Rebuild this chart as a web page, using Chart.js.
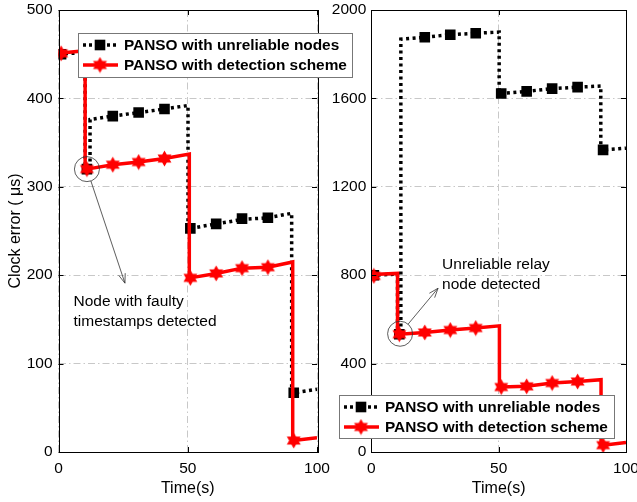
<!DOCTYPE html>
<html>
<head>
<meta charset="utf-8">
<script src="https://cdn.jsdelivr.net/npm/chart.js@4.4.0/dist/chart.umd.min.js"></script>
<style>
  html, body { margin: 0; padding: 0; background: #fff; overflow: hidden; }
  #wrap { position: relative; width: 637px; height: 502px; overflow: hidden; }
  #left { position: absolute; left: 0; top: 0; z-index: 2; }
  #right { position: absolute; left: 320px; top: 0; z-index: 1; }
</style>
</head>
<body>
<div id="wrap">
  <canvas id="left" width="360" height="502"></canvas>
  <canvas id="right" width="340" height="502"></canvas>
</div>
<script>
// series names
const legendLabels = ['PANSO with unreliable nodes', 'PANSO with detection scheme'];

// marker times (s), same for every curve
const markerTimes = [1, 11, 21, 31, 41, 51, 61, 71, 81, 91];

// ---- left panel ----
const leftYTicks = [0, 100, 200, 300, 400, 500];
const leftUnreliableT = [0, 10.3, 10.3, 12.2, 12.2, 21, 31, 41, 50.1, 50.1, 51, 61, 71, 81, 90.2, 90.2, 91, 100];
const leftUnreliableY = [450, 452, 320, 320, 376, 380, 384, 388, 392, 253, 253, 258, 263, 265, 270, 67, 67, 71];
const leftUnreliableMarks = [450, 320, 380, 384, 388, 253, 258, 264, 265, 67];
const leftDetectT = [0, 10.3, 10.3, 11, 21, 31, 41, 50.6, 50.6, 51, 61, 71, 81, 90.6, 90.6, 91, 100];
const leftDetectY = [451, 454, 320, 320, 325, 328, 332, 337, 197, 197, 202, 208, 209, 215, 13, 13, 16];
const leftDetectMarks = [451, 320, 325, 328, 332, 197, 202, 208, 209, 13];

// ---- right panel ----
const rightYTicks = [0, 400, 800, 1200, 1600, 2000];
const rightUnreliableT = [0, 10.3, 10.3, 11.6, 11.6, 21, 31, 41, 50.2, 50.2, 51, 61, 71, 81, 90.1, 90.1, 91, 100];
const rightUnreliableY = [800, 805, 533, 533, 1868, 1877, 1888, 1895, 1900, 1622, 1622, 1632, 1644, 1651, 1656, 1367, 1367, 1375];
const rightUnreliableMarks = [800, 533, 1877, 1888, 1895, 1622, 1632, 1644, 1651, 1367];
const rightDetectT = [0, 10.3, 10.3, 11, 21, 31, 41, 50.3, 50.3, 51, 61, 71, 81, 90.2, 90.2, 91, 100];
const rightDetectY = [803, 808, 533, 533, 541, 552, 561, 571, 294, 294, 298, 312, 319, 327, 31, 31, 43];
const rightDetectMarks = [797, 533, 541, 552, 561, 294, 297, 312, 319, 31];

const xTicks = [0, 50, 100];

const FONT = '"Liberation Sans", Arial, Helvetica, sans-serif';

function pts(t, y) { return t.map((v, i) => ({ x: v, y: y[i] })); }

// six pointed star used as the marker of the red curve
function hexagram(size, color) {
  const c = document.createElement('canvas');
  c.width = c.height = size;
  const g = c.getContext('2d');
  const R = size / 2 - 0.5, r = R * 0.577;
  g.beginPath();
  for (let i = 0; i < 12; i++) {
    const a = -Math.PI / 2 + i * Math.PI / 6;
    const rad = i % 2 ? r : R;
    g.lineTo(size / 2 + rad * Math.cos(a), size / 2 + rad * Math.sin(a));
  }
  g.closePath();
  g.fillStyle = color;
  g.fill();
  return c;
}
const star = hexagram(17, '#ff0000');

// box, inward ticks, annotation and legend
const decorPlugin = {
  id: 'decor',
  afterDatasetsDraw(chart, args, opts) {
    const ctx = chart.ctx, a = chart.chartArea;
    const xs = chart.scales.x, ys = chart.scales.y;
    ctx.save();
    // inward ticks
    ctx.strokeStyle = '#000';
    ctx.lineWidth = 1;
    ctx.beginPath();
    opts.yTicks.forEach(v => {
      const y = Math.round(ys.getPixelForValue(v)) + 0.5;
      ctx.moveTo(a.left, y); ctx.lineTo(a.left + 5, y);
      ctx.moveTo(a.right, y); ctx.lineTo(a.right - 5, y);
    });
    xTicks.forEach(v => {
      const x = Math.round(xs.getPixelForValue(v)) + 0.5;
      ctx.moveTo(x, a.bottom); ctx.lineTo(x, a.bottom - 5);
      ctx.moveTo(x, a.top); ctx.lineTo(x, a.top + 5);
    });
    ctx.stroke();
    // frame
    ctx.strokeRect(Math.round(a.left) + 0.5, Math.round(a.top) + 0.5,
      Math.round(a.right - a.left), Math.round(a.bottom - a.top));

    // annotation: circle, arrow, text
    const n = opts.note;
    const cx = xs.getPixelForValue(n.circle[0]), cy = ys.getPixelForValue(n.circle[1]);
    const tx = xs.getPixelForValue(n.tip[0]), ty = ys.getPixelForValue(n.tip[1]);
    ctx.strokeStyle = '#333';
    ctx.lineWidth = 0.8;
    ctx.beginPath();
    ctx.arc(cx, cy, 12.5, 0, Math.PI * 2);
    ctx.stroke();
    const ang = Math.atan2(ty - cy, tx - cx);
    ctx.beginPath();
    ctx.moveTo(cx + 12.5 * Math.cos(ang), cy + 12.5 * Math.sin(ang));
    ctx.lineTo(tx, ty);
    ctx.moveTo(tx - 10 * Math.cos(ang - 0.35), ty - 10 * Math.sin(ang - 0.35));
    ctx.lineTo(tx, ty);
    ctx.lineTo(tx - 10 * Math.cos(ang + 0.35), ty - 10 * Math.sin(ang + 0.35));
    ctx.stroke();
    ctx.fillStyle = '#000';
    ctx.font = '15.5px ' + FONT;
    ctx.textBaseline = 'middle';
    ctx.textAlign = 'left';
    n.lines.forEach((s, i) => {
      ctx.fillText(s, xs.getPixelForValue(n.text[0]), ys.getPixelForValue(n.text[1]) + i * 20);
    });

    // legend
    const L = opts.legend;
    ctx.fillStyle = '#fff';
    ctx.fillRect(L.x, L.y, L.w, L.h);
    ctx.strokeStyle = '#777';
    ctx.lineWidth = 1;
    ctx.strokeRect(L.x + 0.5, L.y + 0.5, L.w, L.h);
    const r1 = L.y + 12, r2 = L.y + 32;
    const sx0 = L.x + 5, sx1 = L.x + 40, mx = L.x + 22;
    ctx.setLineDash([3, 3]);
    ctx.strokeStyle = '#000';
    ctx.lineWidth = 3.5;
    ctx.beginPath(); ctx.moveTo(sx0, r1); ctx.lineTo(sx1, r1); ctx.stroke();
    ctx.setLineDash([]);
    ctx.fillStyle = '#000';
    ctx.fillRect(mx - 5.3, r1 - 5.3, 10.6, 10.6);
    ctx.strokeStyle = '#ff0000';
    ctx.beginPath(); ctx.moveTo(sx0, r2); ctx.lineTo(sx1, r2); ctx.stroke();
    ctx.drawImage(star, mx - star.width / 2, r2 - star.height / 2);
    ctx.fillStyle = '#000';
    ctx.font = 'bold 15.4px ' + FONT;
    ctx.fillText(legendLabels[0], L.x + 46, r1 + 1);
    ctx.fillText(legendLabels[1], L.x + 46, r2 + 1);
    ctx.restore();
  }
};

function makeChart(id, p) {
  new Chart(document.getElementById(id), {
    type: 'line',
    data: {
      datasets: [
        { data: pts(markerTimes, p.detMarks), showLine: false, pointStyle: star,
          pointRadius: 8, order: 0 },
        { data: pts(p.detT, p.detY), borderColor: '#ff0000', borderWidth: 3.5,
          pointRadius: 0, order: 1 },
        { data: pts(markerTimes, p.unrMarks), showLine: false, pointStyle: 'rect',
          pointRadius: 7.5, backgroundColor: '#000', borderColor: '#000', borderWidth: 0, order: 2 },
        { data: pts(p.unrT, p.unrY), borderColor: '#000', borderWidth: 3.5,
          borderDash: [3, 3.5], pointRadius: 0, order: 3 }
      ]
    },
    options: {
      responsive: false,
      animation: false,
      layout: { padding: { top: 10, right: p.padRight, left: 0, bottom: 0 } },
      plugins: {
        legend: { display: false },
        tooltip: { enabled: false },
        decor: { yTicks: p.yTicks, note: p.note, legend: p.legend }
      },
      scales: {
        x: {
          type: 'linear', min: 0, max: 100,
          afterBuildTicks: s => { s.ticks = xTicks.map(v => ({ value: v })); },
          ticks: { color: '#000', font: { family: FONT, size: 15.5 }, padding: 7, maxRotation: 0,
            callback: v => String(v) },
          grid: { color: '#c8c8c8', lineWidth: 1, drawTicks: false },
          border: { display: false, dash: [7, 3, 1.5, 3] },
          title: { display: true, text: 'Time(s)', color: '#000',
            font: { family: FONT, size: 16 }, padding: { top: 0, bottom: 4 } },
          afterFit: s => { s.height = 50; }
        },
        y: {
          min: 0, max: p.yTicks[p.yTicks.length - 1],
          afterBuildTicks: s => { s.ticks = p.yTicks.map(v => ({ value: v })); },
          ticks: { color: '#000', font: { family: FONT, size: 15.5 }, padding: p.yPad,
            callback: v => String(v) },
          grid: { color: '#c8c8c8', lineWidth: 1, drawTicks: false },
          border: { display: false, dash: [7, 3, 1.5, 3] },
          title: { display: p.yTitle !== '', text: p.yTitle, color: '#000',
            font: { family: FONT, size: 16 }, padding: { top: 5.5, bottom: 0 } },
          afterFit: s => { s.width = p.yWidth; s.paddingTop = 0; s.paddingBottom = 0; }
        }
      }
    },
    plugins: [decorPlugin]
  });
}

makeChart('left', {
  yTicks: leftYTicks, yTitle: 'Clock error ( μs)', yWidth: 58.5, yPad: 6, padRight: 43,
  detT: leftDetectT, detY: leftDetectY, detMarks: leftDetectMarks,
  unrT: leftUnreliableT, unrY: leftUnreliableY, unrMarks: leftUnreliableMarks,
  note: { circle: [11, 320], tip: [25.7, 191], text: [5.8, 170],
          lines: ['Node with faulty', 'timestamps detected'] },
  legend: { x: 78, y: 33, w: 274, h: 44 }
});

makeChart('right', {
  yTicks: rightYTicks, yTitle: '', yWidth: 51.3, yPad: 5, padRight: 34,
  detT: rightDetectT, detY: rightDetectY, detMarks: rightDetectMarks,
  unrT: rightUnreliableT, unrY: rightUnreliableY, unrMarks: rightUnreliableMarks,
  note: { circle: [11.3, 535], tip: [26.2, 741], text: [27.8, 849],
          lines: ['Unreliable relay', 'node detected'] },
  legend: { x: 19, y: 395, w: 275, h: 43 }
});
</script>
</body>
</html>
